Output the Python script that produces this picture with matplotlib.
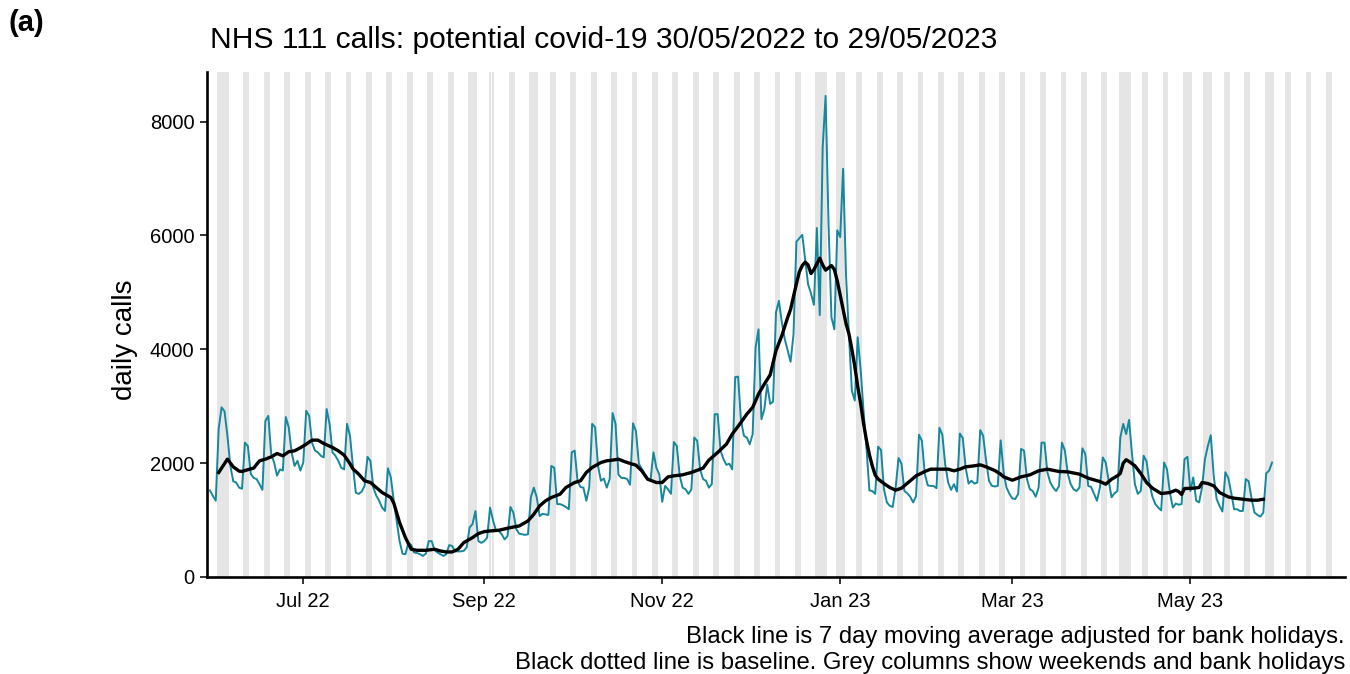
import matplotlib.pyplot as plt
import matplotlib.dates as mdates
import pandas as pd

# daily NHS 111 potential covid-19 calls, one row per week (Mon..Sun), from 30/05/2022
start = "2022-05-30"
daily_calls = [
    1520, 1425, 1340, 2600, 2980, 2910, 2480,
    1950, 1680, 1660, 1570, 1550, 2360, 2300,
    1810, 1740, 1720, 1630, 1530, 2740, 2830,
    2160, 2010, 1780, 1890, 1870, 2810, 2630,
    2190, 1950, 2040, 1870, 2010, 2920, 2830,
    2360, 2220, 2190, 2130, 2100, 2950, 2690,
    2190, 2130, 2040, 1920, 1890, 2690, 2480,
    1950, 1480, 1460, 1500, 1600, 2110, 2040,
    1570, 1430, 1340, 1220, 1160, 1910, 1750,
    1340, 990, 630, 410, 400, 600, 560,
    430, 420, 400, 370, 410, 630, 630,
    470, 430, 400, 370, 400, 560, 545,
    450, 450, 450, 460, 520, 870, 930,
    1160, 630, 600, 630, 690, 1220, 1000,
    820, 810, 750, 660, 720, 1230, 1130,
    840, 760, 750, 740, 750, 1400, 1570,
    1400, 1070, 1110, 1100, 1090, 1950, 1920,
    1280, 1280, 1260, 1230, 1190, 2190, 2220,
    1680, 1580, 1570, 1340, 1570, 2690, 2630,
    1950, 1690, 1730, 1570, 1720, 2880, 2690,
    1800, 1740, 1740, 1720, 1620, 2700, 2560,
    1990, 1900, 1810, 1730, 1700, 2190, 1920,
    1800, 1320, 1600, 1540, 1460, 2370, 2300,
    1780, 1570, 1540, 1460, 1540, 2450, 2390,
    1890, 1720, 1690, 1570, 1630, 2860, 2860,
    2220, 2070, 1970, 1990, 1890, 3510, 3520,
    2750, 2480, 2450, 2330, 2510, 4030, 4350,
    2770, 2950, 3380, 3040, 3080, 4650, 4850,
    4470, 4180, 3980, 3780, 4260, 5890, 5950,
    6010, 5580, 5140, 4980, 4780, 6130, 4600,
    7550, 8450, 6200, 4560, 4350, 6090, 5970,
    7170, 5300, 4250, 3270, 3100, 4210, 3650,
    2920, 2270, 1520, 1510, 1460, 2290, 2230,
    1540, 1310, 1250, 1230, 1570, 2090, 1990,
    1510, 1470, 1410, 1310, 1420, 2500, 2390,
    1810, 1610, 1600, 1600, 1560, 2620, 2500,
    1970, 1660, 1530, 1630, 1500, 2520, 2440,
    1920, 1640, 1690, 1640, 1660, 2580, 2480,
    2040, 1690, 1600, 1590, 1600, 2400, 1840,
    1570, 1460, 1380, 1370, 1460, 2250, 2220,
    1720, 1540, 1510, 1410, 1570, 2360, 2360,
    1840, 1660, 1570, 1510, 1600, 2360, 2220,
    1810, 1630, 1540, 1510, 1570, 2260, 2160,
    1600, 1580, 1460, 1340, 1570, 2100, 2010,
    1690, 1400, 1470, 1510, 2450, 2690, 2510,
    2760, 2160, 1630, 1460, 1510, 2130, 2030,
    1630, 1410, 1280, 1220, 1170, 2010, 1890,
    1480, 1220, 1290, 1270, 1280, 2070, 2110,
    1510, 1750, 1340, 1310, 1570, 2070, 2300,
    2490, 1780, 1370, 1250, 1150, 1840, 1740,
    1480, 1190, 1190, 1160, 1160, 1720, 1680,
    1370, 1130, 1090, 1060, 1130, 1820, 1870,
    2010,
]

# 7 day moving average (adjusted for bank holidays)
ma_day = [3, 5, 6, 8, 10, 11, 13, 15, 17, 19, 21, 23, 25, 27, 29, 31, 33, 35, 37, 39,
          42, 44, 46, 48, 49, 51, 53, 55, 57, 59, 62, 63, 65, 67, 69, 71, 74, 77, 79, 81,
          83, 85, 87, 90, 92, 94, 96, 99, 103, 106, 109, 111, 113, 115, 117, 120, 122, 125, 127, 129,
          131, 134, 136, 138, 140, 142, 144, 146, 148, 150, 153, 155, 157, 159, 162, 165, 169, 171, 174, 177,
          179, 182, 184, 186, 188, 190, 192, 194, 196, 198, 199, 200, 201, 202, 203, 204, 205, 206, 207, 208,
          209, 210, 211, 212, 213, 214, 215, 216, 217, 218, 219, 220, 221, 222, 223, 224, 225, 226, 227, 228,
          229, 231, 233, 235, 237, 240, 242, 245, 247, 250, 253, 255, 257, 259, 262, 264, 266, 269, 271, 272,
          275, 278, 281, 284, 287, 291, 294, 298, 301, 305, 307, 309, 311, 312, 313, 314, 315, 317, 319, 321,
          323, 326, 329, 331, 332, 333, 334, 337, 339, 340, 342, 344, 346, 349, 351, 354, 357, 359, 361]
ma_calls = [1835, 1990, 2070, 1935, 1860, 1853, 1885, 1913, 2040, 2070, 2110, 2169, 2128, 2200, 2216, 2270, 2333, 2404, 2404, 2345,
            2275, 2216, 2140, 1990, 1900, 1806, 1689, 1660, 1572, 1484, 1396, 1300, 956, 692, 487, 469, 469, 487, 457, 440,
            440, 487, 604, 692, 762, 797, 809, 821, 868, 897, 985, 1103, 1249, 1337, 1396, 1455, 1572, 1660, 1689, 1836,
            1924, 2011, 2041, 2053, 2070, 2029, 1994, 1965, 1865, 1718, 1660, 1660, 1759, 1777, 1795, 1836, 1912, 2053, 2187, 2333,
            2510, 2715, 2862, 2979, 3213, 3389, 3550, 3976, 4240, 4560, 4700, 4930, 5150, 5360, 5470, 5530, 5480, 5330, 5400, 5500,
            5600, 5480, 5390, 5430, 5470, 5400, 5200, 4950, 4700, 4450, 4270, 4000, 3700, 3350, 3050, 2700, 2400, 2150, 1950, 1790,
            1720, 1642, 1572, 1525, 1560, 1689, 1777, 1853, 1894, 1894, 1894, 1865, 1894, 1935, 1953, 1970, 1935, 1870, 1806, 1759,
            1700, 1759, 1794, 1865, 1894, 1853, 1847, 1806, 1736, 1677, 1630, 1718, 1777, 1820, 2000, 2060, 2029, 1953, 1820, 1660,
            1560, 1466, 1484, 1525, 1500, 1450, 1554, 1560, 1572, 1660, 1642, 1601, 1484, 1407, 1384, 1366, 1349, 1349, 1366]

bank_holidays = ["2022-06-02", "2022-06-03", "2022-08-29", "2022-09-19", "2022-12-26",
                 "2022-12-27", "2023-01-02", "2023-04-07", "2023-04-10", "2023-05-01",
                 "2023-05-08", "2023-05-29"]
shade_until = "2023-06-18"

dates = pd.date_range(start, periods=len(daily_calls), freq="D")
ma_dates = pd.Timestamp(start) + pd.to_timedelta(ma_day, unit="D")
bh = pd.to_datetime(bank_holidays)
all_days = pd.date_range(start, shade_until, freq="D")
grey_days = [d for d in all_days if d.dayofweek >= 5 or d in bh]

plt.rcParams['font.family'] = ['Liberation Sans', 'DejaVu Sans']

fig = plt.figure(figsize=(13.5, 6.74), dpi=100)
ax = fig.add_axes([207 / 1350, 1 - 577 / 674, (1345 - 207) / 1350, (577 - 72) / 674])

# grey columns for weekends and bank holidays
half = pd.Timedelta(hours=12)
for d in grey_days:
    ax.axvspan(d - half, d + half, color='#e5e5e5', lw=0, zorder=0)

ax.plot(dates, daily_calls, color='#16879c', lw=1.4, zorder=2)
ax.plot(ma_dates, ma_calls, color='black', lw=2.4, zorder=3)

ax.set_xlim(pd.Timestamp("2022-05-29"), pd.Timestamp("2023-06-23"))
ax.set_ylim(0, 8870)
ax.set_yticks([0, 2000, 4000, 6000, 8000])
ax.xaxis.set_major_locator(mdates.MonthLocator(bymonth=[1, 3, 5, 7, 9, 11]))
ax.xaxis.set_major_formatter(mdates.DateFormatter("%b %y"))

for s in ['top', 'right']:
    ax.spines[s].set_visible(False)
for s in ['left', 'bottom']:
    ax.spines[s].set_linewidth(1.9)
ax.tick_params(axis='both', length=5, width=1.4, color='#333333', labelsize=14.5)
ax.tick_params(axis='x', pad=6)
ax.tick_params(axis='y', pad=4)

ax.set_ylabel("daily calls", fontsize=20)
ax.yaxis.set_label_coords(-0.061, 0.47)

fig.text(210 / 1350, 1 - 40 / 674, "NHS 111 calls: potential covid-19 30/05/2022 to 29/05/2023",
         fontsize=21.6, ha='left', va='center')
fig.text(9 / 1350, 1 - 23 / 674, "(a)", fontsize=21, fontweight='bold', ha='left', va='center')
fig.text(1345 / 1350, 1 - 637 / 674, "Black line is 7 day moving average adjusted for bank holidays.",
         fontsize=17.2, ha='right', va='center')
fig.text(1345 / 1350, 1 - 663 / 674, "Black dotted line is baseline. Grey columns show weekends and bank holidays",
         fontsize=17.2, ha='right', va='center')

fig.savefig("out.png", dpi=100)
